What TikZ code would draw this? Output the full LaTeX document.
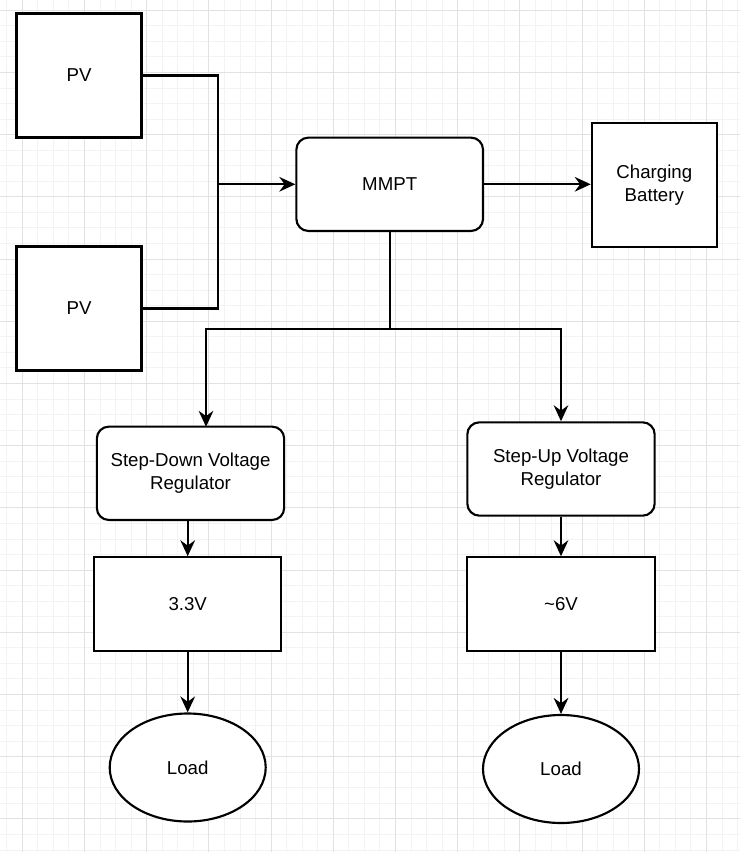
\documentclass[tikz,border=0pt]{standalone}
\usepackage{fontspec}
\setmainfont{Liberation Sans}
\usepackage{tikz}
\usetikzlibrary{arrows.meta}
\usetikzlibrary{positioning}
\usetikzlibrary{shapes.geometric}
\definecolor{gridminor}{HTML}{F3F3F3}
\definecolor{gridmajor}{HTML}{E2E2E2}
\newcommand{\labelfont}{\fontsize{14}{16.8}\selectfont}
\tikzset{
    block/.style={draw, line width=1.6pt, fill=white, inner sep=0pt,
        align=center, font=\labelfont},
    pvbox/.style={block, minimum width=93.75pt, minimum height=93pt},
    widebox/.style={block, minimum width=140.5pt, minimum height=70pt},
    regbox/.style={widebox, rounded corners=9pt},
    loadnode/.style={block, ellipse, minimum width=117pt, minimum height=81pt},
    link/.style={line width=1.6pt, -{Stealth[length=12pt, width=11pt, inset=4pt]}},
    gridline/.style={line width=0.75pt}
}

\begin{document}
\begin{tikzpicture}[x=0.75pt, y=-0.75pt]
    \useasboundingbox (0,0) rectangle (740,852);
    \fill[white] (0,0) rectangle (740,852);
    \foreach \k in {0,...,47}
        \draw[gridline, gridminor] ({6.75+15.55*\k},0) -- ++(0,852);
    \foreach \k in {0,...,54}
        \draw[gridline, gridminor] (0,{10.3+15.55*\k}) -- ++(740,0);
    \foreach \k in {0,...,11}
        \draw[gridline, gridmajor] ({22.3+62.2*\k},0) -- ++(0,852);
    \foreach \k in {0,...,13}
        \draw[gridline, gridmajor] (0,{10.3+62.2*\k}) -- ++(740,0);

    \node[pvbox] (pv-top) at (79,75.5) {PV};
    \node[pvbox] (pv-bottom) at (79,308.5) {PV};
    \node[widebox, rounded corners=9pt, minimum width=140pt] (mmpt) at (389.7,184.3) {MMPT};
    \node[pvbox] (battery) at (654.3,185) {Charging\\Battery};

    \node[regbox] (step-down) at (190.5,473.3) {Step-Down Voltage\\Regulator};
    \node[regbox] (step-up) at (561,469) {Step-Up Voltage\\Regulator};
    \node[widebox] (out-low) at (187.7,604) {3.3V};
    \node[widebox] (out-high) at (561,604) {\textasciitilde6V};
    \node[loadnode] (load-low) at (187.7,767.5) {Load};
    \node[loadnode] (load-high) at (561,769) {Load};

    \coordinate (pv-join) at (218,184.3);
    \coordinate (split) at (389.7,329);
    \coordinate (step-down-in) at (206,426.8);

    \draw[line width=1.6pt] (pv-top.east) -| (pv-join) |- (pv-bottom.east);
    \draw[link] (pv-join) -- (mmpt.west);
    \draw[link] (mmpt.east) -- (mmpt.east -| battery.west);

    \draw[line width=1.6pt] (mmpt.south) -- (split);
    \draw[link] (split) -| (step-down-in);
    \draw[link] (split) -| (step-up.north);

    \draw[link] (step-down.south -| out-low.north) -- (out-low.north);
    \draw[link] (out-low.south) -- (load-low.north);
    \draw[link] (step-up.south) -- (out-high.north);
    \draw[link] (out-high.south) -- (load-high.north);
\end{tikzpicture}
\end{document}
